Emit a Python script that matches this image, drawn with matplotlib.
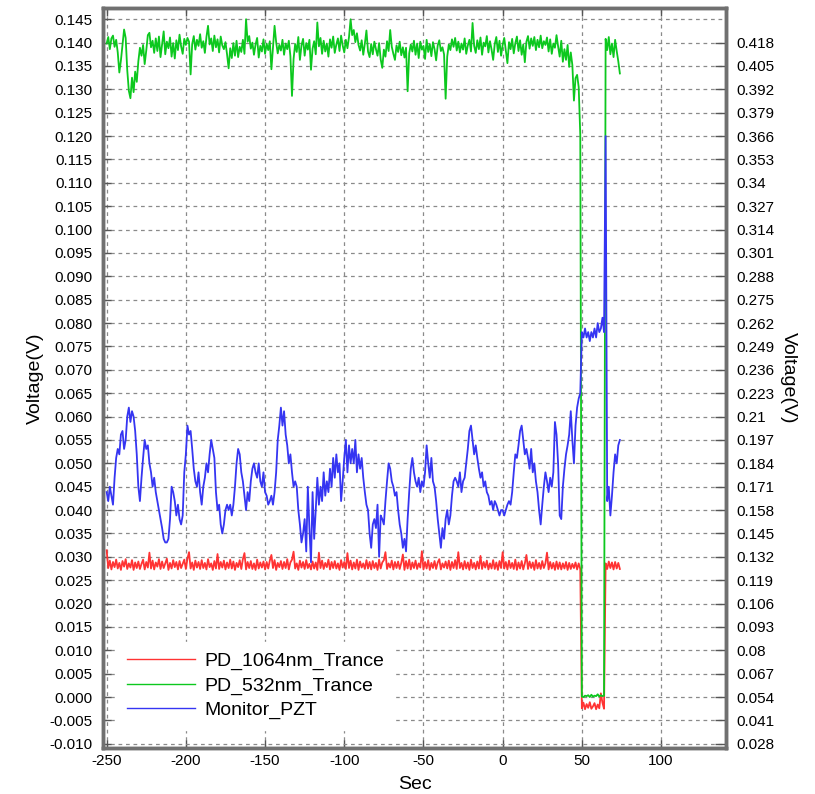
import numpy as np
import matplotlib
matplotlib.use("Agg")
import matplotlib.pyplot as plt
from matplotlib.lines import Line2D

# -----------------------------
# Data (1 s steps from -250 s to 74 s)
# -----------------------------
t_start, t_end = -250, 74

# PD_1064nm_Trance, left axis, mV
pd1064_mv = [
    31.4, 27.6, 29.2, 27.3, 28.9, 27.8, 29.4, 27.5, 28.7, 27.2,
    29.1, 27.9, 29.5, 27.4, 28.6, 27.7, 29.3, 27.2, 28.8, 27.6,
    29.0, 27.4, 28.5, 29.4, 27.3, 28.9, 27.7, 30.9, 27.5, 29.2,
    27.3, 28.8, 27.9, 29.5, 27.4, 29.0, 27.6, 28.6, 29.6, 27.2,
    28.7, 27.5, 29.3, 27.8, 28.9, 27.3, 29.1, 27.6, 28.5, 29.4,
    27.4, 29.6, 31.0, 27.5, 28.8, 27.2, 29.2, 27.7, 28.9, 27.4,
    29.3, 27.6, 28.7, 27.3, 29.5, 27.8, 28.6, 27.2, 29.1, 27.5,
    30.6, 27.4, 28.9, 27.7, 29.2, 27.3, 28.8, 27.6, 29.4, 27.5,
    29.0, 27.2, 28.7, 27.8, 29.3, 27.4, 29.5, 30.8, 27.3, 28.9,
    27.6, 29.1, 27.4, 28.6, 27.2, 29.4, 27.5, 28.8, 27.7, 29.0,
    27.3, 28.9, 27.5, 29.2, 30.4, 27.6, 29.3, 27.2, 28.7, 27.8,
    29.1, 27.4, 28.9, 27.6, 29.5, 27.3, 28.8, 29.4, 31.1, 27.5,
    28.6, 27.2, 29.2, 27.7, 28.9, 27.4, 29.3, 27.6, 28.5, 27.3,
    29.0, 27.5, 28.8, 27.2, 30.9, 27.6, 29.2, 27.4, 28.7, 27.8,
    29.4, 27.3, 28.9, 27.6, 29.1, 27.5, 28.6, 27.2, 29.3, 27.7,
    28.9, 27.4, 30.8, 27.6, 29.2, 27.3, 28.8, 27.5, 29.4, 27.2,
    29.0, 27.7, 28.6, 27.4, 29.3, 27.5, 28.9, 27.3, 29.1, 27.6,
    28.7, 27.2, 29.4, 27.5, 28.8, 29.3, 31.0, 27.4, 28.6, 27.7,
    29.2, 27.3, 28.9, 27.6, 29.0, 27.4, 28.7, 30.5, 27.2, 29.1,
    27.5, 29.4, 27.3, 28.8, 27.6, 29.2, 27.4, 28.6, 27.7, 31.2,
    27.3, 28.9, 27.5, 29.3, 27.2, 28.7, 27.6, 29.1, 27.4, 28.8,
    29.5, 27.3, 28.6, 27.7, 29.0, 27.5, 29.2, 27.2, 28.9, 27.6,
    29.3, 27.4, 31.0, 27.6, 28.7, 27.3, 29.1, 27.5, 28.8, 27.2,
    29.4, 27.6, 28.7, 27.3, 29.0, 27.5, 30.2, 27.4, 28.9, 27.7,
    29.2, 27.3, 28.6, 27.5, 29.3, 27.4, 28.8, 27.2, 29.1, 27.6,
    31.0, 27.5, 28.9, 27.3, 29.2, 27.6, 28.7, 27.4, 29.4, 27.2,
    28.8, 27.5, 29.1, 27.3, 28.6, 30.4, 27.4, 29.0, 27.6, 28.8,
    27.2, 29.3, 27.5, 28.7, 27.4, 29.1, 27.6, 28.6, 30.9, 27.3,
    28.9, 27.5, 28.7, 27.2, 29.0, 27.4, 28.8, 27.3, 28.6, 27.5,
    28.9, 27.2, 28.7, 27.4, 28.5, 27.6, 28.8, 27.3, 28.6, 27.4,
    -2.4, -1.2, -2.6, -1.5, -2.3, -1.1, -2.5, -2.0, -1.3, -2.6,
    -1.6, -2.4, 0.8, -1.2, -2.5,
    28.6, 27.4, 29.0, 27.6, 28.8, 27.3, 28.9, 27.5, 28.7, 27.4,
]

# PD_532nm_Trance, left axis, mV
pd532_mv = [
    139.8, 141.2, 138.6, 140.9, 141.5, 139.1, 140.6, 137.9, 133.6, 136.2,
    139.4, 142.8, 141.0, 134.1, 129.7, 128.1, 132.5, 129.4, 133.8, 131.6,
    136.0, 138.9, 137.2, 139.5, 135.4, 138.3, 141.6, 142.1, 139.0, 140.4,
    137.8, 140.9, 138.2, 141.3, 136.9, 139.6, 142.4, 137.5, 140.2, 138.8,
    141.1, 137.0, 139.9, 136.6, 140.5, 138.4, 141.7, 139.2, 137.6, 140.8,
    139.5, 141.0, 140.2, 133.2, 139.7, 141.4, 138.5, 140.6, 139.3, 141.8,
    138.9, 140.3, 137.8, 141.2, 143.6, 139.6, 140.9, 138.2, 141.5, 139.0,
    140.7, 137.9, 141.3, 139.4, 138.6, 140.1, 137.5, 134.5, 138.8, 136.7,
    139.9, 137.2, 140.4, 136.9, 139.1, 138.0, 140.6, 137.6, 145.0, 140.2,
    141.4, 138.7, 140.0, 137.4, 139.6, 141.0, 136.8, 139.3, 138.1, 140.7,
    137.6, 139.8, 138.4, 140.3, 134.3, 138.9, 143.6, 140.1, 137.7, 139.5,
    138.3, 140.6, 137.4, 139.8, 138.6, 140.4, 137.1, 128.6, 136.5, 139.7,
    138.0, 141.2, 136.3, 139.4, 140.8, 137.2, 139.9, 138.5, 140.6, 134.2,
    138.7, 140.3, 137.5, 144.3, 139.2, 141.0, 137.6, 140.4, 138.1, 139.8,
    137.0, 140.7, 138.9, 141.3, 137.8, 139.6, 140.9, 138.2, 141.5, 139.4,
    137.9, 140.6, 138.8, 141.2, 145.0, 141.6, 142.7, 140.1, 142.0, 139.5,
    138.3, 140.5, 137.4, 139.8, 142.6, 138.1, 136.9, 139.7, 137.5, 140.2,
    138.6, 137.2, 139.9, 136.4, 134.6, 138.5, 137.0, 140.3, 138.2, 142.7,
    139.1, 137.6, 136.3, 139.4, 138.0, 140.2, 137.3, 139.0, 136.8, 138.9,
    129.6, 137.7, 139.6, 138.1, 140.4, 137.4, 139.8, 136.7, 140.2, 138.5,
    139.3, 136.5, 140.6, 138.0, 139.7, 137.1, 140.1, 138.6, 136.2, 139.4,
    140.5, 138.2, 139.0, 137.5, 128.0, 137.0, 139.6, 138.4, 140.7, 139.1,
    141.0, 138.3, 140.2, 137.9, 139.8, 138.5, 140.9, 137.6, 139.4, 140.6,
    138.1, 144.2, 139.3, 137.8, 140.5, 138.6, 141.1, 137.4, 140.0, 139.2,
    141.4, 137.9, 140.3, 138.5, 136.3, 139.7, 141.2, 138.0, 140.4, 137.2,
    139.5, 141.0, 138.3, 135.6, 140.1, 138.6, 140.8, 137.7, 139.9, 141.3,
    138.2, 140.5, 137.4, 139.6, 135.8, 140.2, 141.4, 138.7, 140.9, 139.3,
    141.2, 138.4, 140.6, 139.0, 141.5, 138.8, 140.3, 139.5, 141.1, 138.1,
    140.7, 137.6, 139.8, 138.9, 141.6, 139.2, 137.0, 140.4, 135.9, 138.6,
    136.3, 139.5, 134.8, 137.9, 135.2, 127.6, 132.4, 133.1, 130.5, 120.3,
    0.1, 0.0, 0.3, 0.2, 0.4, 0.0, 0.5, 0.1, 0.3, 0.2,
    0.6, 0.1, 0.4, 0.2, 0.3,
    140.8, 138.4, 141.2, 137.5, 139.8, 136.9, 140.6, 138.2, 136.0, 133.4,
]

# Monitor_PZT, right axis, mV
pzt_mv = [
    168, 163, 171, 166, 161, 176, 187, 192, 189, 200,
    202, 192, 197, 210, 215, 207, 213, 210, 202, 189,
    171, 163, 176, 187, 197, 192, 194, 184, 179, 171,
    176, 168, 163, 158, 153, 148, 142, 140, 140, 142,
    153, 171, 168, 163, 155, 161, 153, 150, 155, 179,
    189, 205, 200, 202, 192, 181, 174, 171, 179, 168,
    161, 171, 176, 184, 179, 189, 197, 192, 187, 168,
    158, 161, 150, 145, 150, 158, 161, 158, 161, 155,
    161, 171, 184, 192, 189, 179, 174, 166, 158, 168,
    163, 174, 181, 184, 179, 176, 184, 174, 171, 179,
    168, 166, 161, 163, 166, 161, 168, 179, 197, 205,
    215, 205, 213, 200, 194, 184, 189, 179, 171, 174,
    171, 158, 150, 140, 145, 153, 135, 171, 148, 129,
    168, 142, 158, 176, 161, 171, 163, 179, 166, 174,
    168, 181, 171, 187, 176, 189, 179, 184, 163, 174,
    187, 197, 179, 194, 184, 192, 184, 197, 179, 189,
    181, 187, 176, 168, 161, 158, 145, 137, 150, 153,
    148, 161, 132, 155, 153, 150, 163, 174, 184, 181,
    174, 171, 166, 168, 158, 150, 145, 137, 142, 135,
    153, 168, 181, 187, 179, 174, 171, 176, 168, 174,
    171, 179, 194, 184, 176, 187, 174, 171, 163, 153,
    145, 137, 148, 142, 153, 158, 150, 155, 166, 174,
    176, 174, 171, 179, 168, 174, 176, 184, 192, 202,
    205, 197, 189, 194, 187, 181, 176, 179, 171, 174,
    168, 166, 161, 163, 158, 163, 161, 158, 155, 158,
    158, 155, 158, 161, 163, 161, 168, 179, 189, 187,
    194, 202, 205, 197, 189, 192, 187, 181, 192, 179,
    184, 174, 168, 158, 150, 161, 171, 179, 174, 168,
    176, 171, 179, 207, 200, 184, 155, 153, 171, 181,
    189, 194, 200, 213, 197, 184, 205, 215, 220, 223,
    257, 254, 259, 254, 257, 252, 257, 254, 259, 254,
    262, 257, 259, 265, 257,
    366, 163, 171, 155, 166, 179, 189, 184, 194, 197,
]

series_labels = ["PD_1064nm_Trance", "PD_532nm_Trance", "Monitor_PZT"]
series_colors = ["#ff3333", "#0cc81e", "#3535f2"]

t = np.arange(t_start, t_end + 1)
pd1064 = np.array(pd1064_mv) / 1000.0
pd532 = np.array(pd532_mv) / 1000.0
pzt = np.array(pzt_mv) / 1000.0

# -----------------------------
# Plot
# -----------------------------
plt.rcParams["font.family"] = ["Liberation Sans", "DejaVu Sans"]
plt.rcParams["axes.unicode_minus"] = False
spine_col = "#707070"

fig = plt.figure(figsize=(8.15, 7.94), dpi=100)
ax = fig.add_axes([0.1264, 0.0579, 0.7644, 0.932])
ax2 = ax.twinx()

ylo, yhi = -0.0109, 0.1474
ax.set_xlim(-252.3, 141)
ax.set_ylim(ylo, yhi)
# right axis is a linear rescale of the left one
ax2.set_ylim(0.054 + 2.6 * ylo, 0.054 + 2.6 * yhi)

ax.plot(t, pd1064, color=series_colors[0], lw=1.3)
ax.plot(t, pd532, color=series_colors[1], lw=1.3)
ax2.plot(t, pzt, color=series_colors[2], lw=1.3)

left_ticks = np.round(np.arange(-0.010, 0.1451, 0.005), 3)
right_ticks = np.round(0.028 + 0.013 * np.arange(31), 3)
ax.set_yticks(left_ticks)
ax.set_yticklabels([f"{v:.3f}" for v in left_ticks])
ax2.set_yticks(right_ticks)
ax2.set_yticklabels([f"{v:g}" for v in right_ticks])
ax.set_xticks(np.arange(-250, 101, 50))

ax.grid(True, color="#8a8a8a", linestyle=(0, (3, 3)), lw=0.9)
ax.set_axisbelow(True)

ax.tick_params(axis="both", direction="in", top=True, right=False,
               length=6, width=1, color="#555555", labelsize=11)
ax.tick_params(axis="y", pad=7.5)
ax.tick_params(axis="x", pad=4)
ax2.tick_params(axis="y", direction="in", length=8, width=1,
                color="#555555", labelsize=11, pad=7.5)

for a in (ax, ax2):
    for s in a.spines.values():
        s.set_color(spine_col)
        s.set_linewidth(2.5)

ax.set_xlabel("Sec", fontsize=14, labelpad=6)
ax.set_ylabel("Voltage(V)", fontsize=14, labelpad=4)
ax2.set_ylabel("Voltage(V)", fontsize=14, rotation=270, labelpad=16)

handles = [Line2D([], [], color=c, lw=1) for c in series_colors]
leg = ax2.legend(handles, series_labels, loc="lower left",
                 bbox_to_anchor=(0.022, 0.025), borderaxespad=0,
                 fontsize=14, handlelength=3.5, handletextpad=0.45,
                 labelspacing=0.33, frameon=True, fancybox=False,
                 borderpad=0.55)
leg.get_frame().set_facecolor("white")
leg.get_frame().set_edgecolor("white")
leg.get_frame().set_alpha(1)

fig.savefig("out.png", dpi=100)
